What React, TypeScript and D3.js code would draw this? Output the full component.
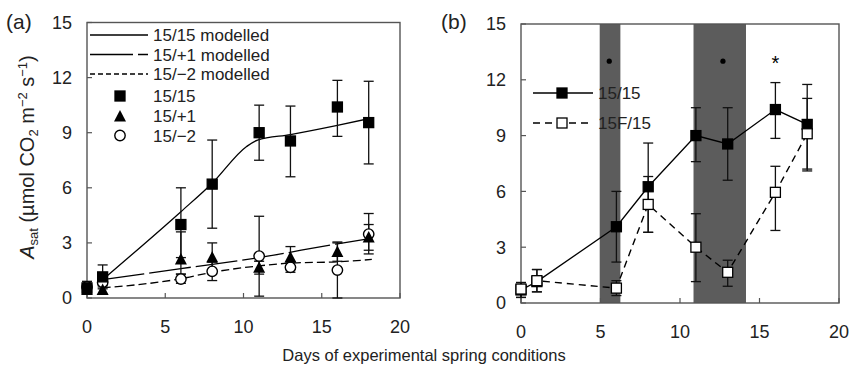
import React from "react";
import * as d3 from "d3";

// ---------- data ----------
const days = [0, 1, 6, 8, 11, 13, 16, 18];

// panel (a) observed
const a1515 = [0.55, 1.15, 4.0, 6.2, 9.0, 8.55, 10.4, 9.55];
const a1515Lo = [0.3, 0.6, 2.2, 3.8, 7.5, 6.6, 8.8, 7.3];
const a1515Hi = [0.9, 1.8, 6.0, 8.6, 10.5, 10.45, 11.85, 11.8];

const a151 = [0.45, 0.43, 2.1, 2.2, 1.65, 2.2, 2.5, 3.3];
const a151Lo = [0.2, 0.2, 1.3, 1.4, 1.3, 1.7, 2.0, 2.6];
const a151Hi = [0.7, 0.7, 3.6, 3.0, 2.0, 2.8, 3.05, 4.0];

const a152 = [0.6, 0.85, 1.03, 1.45, 2.28, 1.67, 1.52, 3.48];
const a152Lo = [0.3, 0.5, 0.8, 0.95, 0.1, 1.4, 0.0, 2.4];
const a152Hi = [0.9, 1.2, 1.3, 1.95, 4.45, 1.95, 3.0, 4.6];

// panel (a) modelled
const m1515X = [1, 6, 8, 10.2, 10.9, 13, 16, 18.2];
const m1515Y = [1.0, 4.7, 6.25, 8.25, 8.6, 8.9, 9.4, 9.8];
const m151X = [1, 6, 11, 16, 18.2];
const m151Y = [1.0, 1.6, 2.2, 2.95, 3.25];
const m152X = [1, 6, 8, 11, 13, 16, 18.2];
const m152Y = [0.55, 1.05, 1.4, 1.75, 1.9, 1.97, 2.1];

// panel (b)
const b1515 = [0.7, 1.15, 4.1, 6.25, 9.0, 8.55, 10.4, 9.6];
const b1515Lo = [0.3, 0.6, 2.2, 3.8, 7.6, 6.6, 8.85, 7.1];
const b1515Hi = [1.1, 1.8, 6.0, 8.6, 10.5, 10.5, 11.85, 11.75];
const bF15 = [0.75, 1.2, 0.8, 5.3, 3.0, 1.65, 5.95, 9.1];
const bF15Lo = [0.3, 0.6, 0.4, 3.8, 1.15, 0.9, 3.9, 7.2];
const bF15Hi = [1.1, 1.8, 1.2, 6.8, 4.8, 2.3, 7.35, 11.0];

const shadeStart = [4.95, 10.85];
const shadeEnd = [6.25, 14.15];
const sigDays = [5.55, 12.7, 16];
const sigMarks = ["dot", "dot", "star"];
const sigLevel = 13;

const xTicks = [0, 5, 10, 15, 20];
const yTicks = [0, 3, 6, 9, 12, 15];

const FONT = "'Liberation Sans', Arial, sans-serif";
const FS = 16.5;
const TFS = 18;
const LFS = 17;
const AX = "#555";

type Sc = d3.ScaleLinear<number, number>;

function Axes({ x, y }: { x: Sc; y: Sc }) {
  const [x0, x1] = x.range();
  const [y0, y1] = y.range();
  return (
    <g>
      <rect x={x0} y={y1} width={x1 - x0} height={y0 - y1} fill="none" stroke={AX} strokeWidth={1.4} />
      {xTicks.map((t) => (
        <g key={"x" + t}>
          <line x1={x(t)} x2={x(t)} y1={y0} y2={y0 - 5} stroke={AX} strokeWidth={1.2} />
          <text x={x(t)} y={y0 + 34.5} textAnchor="middle" fontSize={TFS} fontFamily={FONT} fill="#222">
            {t}
          </text>
        </g>
      ))}
      {yTicks.map((t) => (
        <g key={"y" + t}>
          <line x1={x0} x2={x0 + 5} y1={y(t)} y2={y(t)} stroke={AX} strokeWidth={1.2} />
          <text x={x0 - 15} y={y(t)} dy="0.36em" textAnchor="end" fontSize={TFS} fontFamily={FONT} fill="#222">
            {t}
          </text>
        </g>
      ))}
    </g>
  );
}

function ErrBars({ x, y, lo, hi }: { x: Sc; y: Sc; lo: number[]; hi: number[] }) {
  return (
    <g stroke="#111" strokeWidth={1.3}>
      {days.map((d, i) => (
        <g key={i}>
          <line x1={x(d)} x2={x(d)} y1={y(lo[i])} y2={y(hi[i])} />
          <line x1={x(d) - 5} x2={x(d) + 5} y1={y(lo[i])} y2={y(lo[i])} />
          <line x1={x(d) - 5} x2={x(d) + 5} y1={y(hi[i])} y2={y(hi[i])} />
        </g>
      ))}
    </g>
  );
}

const Square = ({ cx, cy, open }: { cx: number; cy: number; open?: boolean }) => (
  <rect x={cx - 5} y={cy - 5} width={10} height={10} fill={open ? "#fff" : "#000"} stroke="#000" strokeWidth={1.3} />
);
const Tri = ({ cx, cy }: { cx: number; cy: number }) => (
  <path d={`M${cx},${cy - 6.5} L${cx + 6},${cy + 5} L${cx - 6},${cy + 5} Z`} fill="#000" />
);
const Circ = ({ cx, cy }: { cx: number; cy: number }) => (
  <circle cx={cx} cy={cy} r={5.2} fill="#fff" stroke="#000" strokeWidth={1.4} />
);

function PanelA() {
  const x = d3.scaleLinear().domain([0, 20]).range([87, 400]);
  const y = d3.scaleLinear().domain([0, 15]).range([298, 22.5]);
  const line = d3
    .line<[number, number]>()
    .x((d) => x(d[0]))
    .y((d) => y(d[1]))
    .curve(d3.curveMonotoneX);
  const zip = (a: number[], b: number[]) => a.map((v, i) => [v, b[i]] as [number, number]);
  const legX0 = 90, legX1 = 148, legT = 153;
  return (
    <g>
      <Axes x={x} y={y} />
      <path d={line(zip(m1515X, m1515Y))!} fill="none" stroke="#000" strokeWidth={1.3} />
      <path d={line(zip(m151X, m151Y))!} fill="none" stroke="#000" strokeWidth={1.3} strokeDasharray="42,5" />
      <path d={line(zip(m152X, m152Y))!} fill="none" stroke="#000" strokeWidth={1.3} strokeDasharray="8,4" />
      <ErrBars x={x} y={y} lo={a152Lo} hi={a152Hi} />
      <ErrBars x={x} y={y} lo={a151Lo} hi={a151Hi} />
      <ErrBars x={x} y={y} lo={a1515Lo} hi={a1515Hi} />
      {days.map((d, i) => (
        <Circ key={"c" + i} cx={x(d)} cy={y(a152[i])} />
      ))}
      {days.map((d, i) => (
        <Tri key={"t" + i} cx={x(d)} cy={y(a151[i])} />
      ))}
      {days.map((d, i) => (
        <Square key={"s" + i} cx={x(d)} cy={y(a1515[i])} />
      ))}
      {/* legend */}
      <g fontSize={LFS} fontFamily={FONT} fill="#222">
        <line x1={legX0} x2={legX1} y1={35} y2={35} stroke="#000" strokeWidth={1.3} />
        <text x={legT} y={35} dy="0.36em">15/15 modelled</text>
        <line x1={legX0} x2={legX1} y1={54.5} y2={54.5} stroke="#000" strokeWidth={1.3} strokeDasharray="43,5" />
        <text x={legT} y={54.5} dy="0.36em">15/+1 modelled</text>
        <line x1={legX0} x2={legX1} y1={74} y2={74} stroke="#000" strokeWidth={1.3} strokeDasharray="5,3" />
        <text x={legT} y={74} dy="0.36em">15/−2 modelled</text>
        <Square cx={120} cy={96} />
        <text x={legT} y={96} dy="0.36em">15/15</text>
        <Tri cx={120} cy={116.5} />
        <text x={legT} y={116} dy="0.36em">15/+1</text>
        <Circ cx={120} cy={135.5} />
        <text x={legT} y={136} dy="0.36em">15/−2</text>
      </g>
      <text x={6} y={29} fontSize={21} fontFamily={FONT} fill="#222">(a)</text>
      <text
        transform="translate(34,157) rotate(-90)"
        textAnchor="middle"
        fontSize={20}
        fontFamily={FONT}
        fill="#222"
      >
        <tspan fontStyle="italic">A</tspan>
        <tspan fontSize={13} dy={4}>sat</tspan>
        <tspan dy={-4}> (µmol CO</tspan>
        <tspan fontSize={13} dy={4}>2</tspan>
        <tspan dy={-4}> m</tspan>
        <tspan fontSize={13} dy={-7}>−2</tspan>
        <tspan dy={7}> s</tspan>
        <tspan fontSize={13} dy={-7}>−1</tspan>
        <tspan dy={7}>)</tspan>
      </text>
    </g>
  );
}

function PanelB() {
  const x = d3.scaleLinear().domain([0, 20]).range([521, 839]);
  const y = d3.scaleLinear().domain([0, 15]).range([303, 24]);
  const line = d3
    .line<number>()
    .x((_, i) => x(days[i]))
    .y((d) => y(d));
  return (
    <g>
      {shadeStart.map((s, i) => (
        <rect key={i} x={x(s)} y={y(15)} width={x(shadeEnd[i]) - x(s)} height={y(0) - y(15)} fill="#5c5c5c" />
      ))}
      <Axes x={x} y={y} />
      {sigDays.map((d, i) =>
        sigMarks[i] === "dot" ? (
          <circle key={i} cx={x(d)} cy={y(sigLevel)} r={2.6} fill="#000" />
        ) : (
          <text key={i} x={x(d)} y={y(sigLevel) + 9} textAnchor="middle" fontSize={20} fontFamily={FONT} fill="#000">
            *
          </text>
        )
      )}
      <path d={line(bF15)!} fill="none" stroke="#000" strokeWidth={1.4} strokeDasharray="7,5" />
      <path d={line(b1515)!} fill="none" stroke="#000" strokeWidth={1.3} />
      <ErrBars x={x} y={y} lo={b1515Lo} hi={b1515Hi} />
      <ErrBars x={x} y={y} lo={bF15Lo} hi={bF15Hi} />
      {days.map((d, i) => (
        <Square key={"s" + i} cx={x(d)} cy={y(b1515[i])} />
      ))}
      {days.map((d, i) => (
        <Square key={"o" + i} cx={x(d)} cy={y(bF15[i])} open />
      ))}
      <g fontSize={LFS} fontFamily={FONT} fill="#222">
        <line x1={533} x2={593} y1={93} y2={93} stroke="#000" strokeWidth={1.3} />
        <Square cx={562} cy={93} />
        <text x={598} y={93} dy="0.36em">15/15</text>
        <line x1={533} x2={593} y1={123} y2={123} stroke="#000" strokeWidth={1.3} strokeDasharray="7,5" />
        <Square cx={562} cy={123} open />
        <text x={598} y={123} dy="0.36em">15F/15</text>
      </g>
      <text x={441} y={29} fontSize={21} fontFamily={FONT} fill="#222">(b)</text>
    </g>
  );
}

export default function App() {
  return (
    <svg width={851} height={370} style={{ position: "absolute", left: 0, top: 0, background: "#fff" }}>
      <rect width={851} height={370} fill="#fff" />
      <PanelA />
      <PanelB />
      <text x={424} y={361} textAnchor="middle" fontSize={FS} fontFamily={FONT} fill="#222">
        Days of experimental spring conditions
      </text>
    </svg>
  );
}
